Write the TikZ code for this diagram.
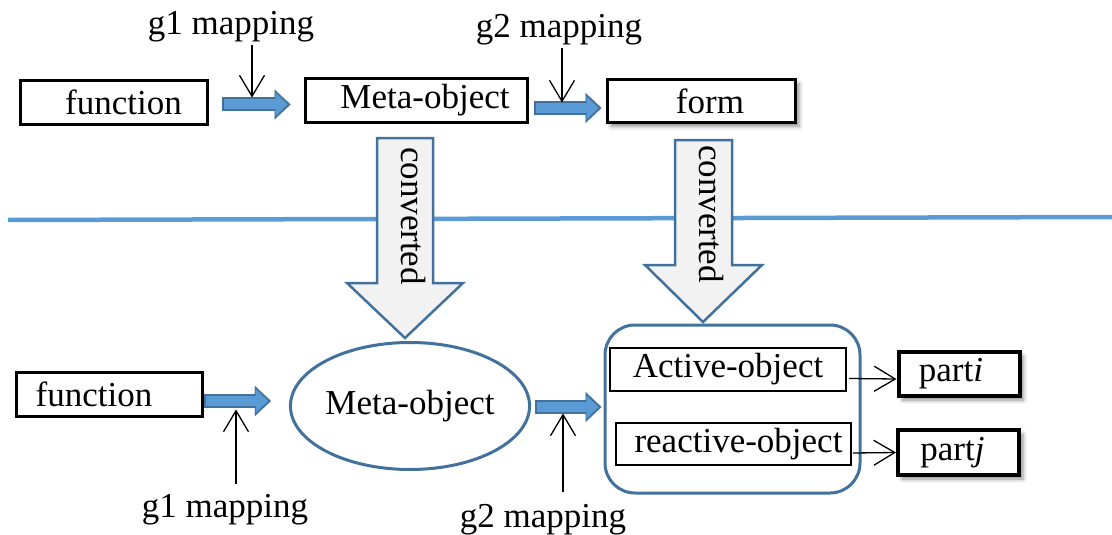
\documentclass[tikz,border=0pt]{standalone}
\usepackage{fontspec}
\setmainfont{Liberation Serif}
\usetikzlibrary{arrows.meta,calc,shapes.geometric,shadows.blur}
\definecolor{arrowblue}{HTML}{5B9BD5}
\definecolor{arrowedge}{HTML}{41719C}
\definecolor{convfill}{HTML}{F2F2F2}
\begin{document}
\begin{tikzpicture}[x=1pt,y=-1pt,
  every node/.style={font=\fontsize{35}{40}\selectfont, inner sep=0pt},
  box/.style={draw=black, line width=3pt, fill=white, minimum height=43pt},
  thinbox/.style={draw=black, line width=2pt, fill=white, minimum height=43pt},
  partbox/.style={draw=black, line width=4pt, fill=white, minimum height=44pt, minimum width=121pt},
  softshadow/.style={blur shadow={shadow xshift=4pt, shadow yshift=-4pt, shadow blur radius=4pt, shadow opacity=45}},
  fatout/.style={draw=arrowedge, line width=14pt, -{Triangle[length=16pt,width=30pt,line width=0.1pt]}},
  fatin/.style={draw=arrowblue, line width=10pt, shorten <=2pt, shorten >=3pt, -{Triangle[length=12pt,width=23pt,line width=0.1pt]}},
  thinarrow/.style={draw=black, line width=1.3pt, -{Straight Barb[length=21pt,width=25pt,line width=1.3pt]}},
  conv/.style={draw=arrowedge, fill=convfill, line width=2.5pt, line join=miter}
]
\useasboundingbox (0,0) rectangle (1112,535);

% separating line
\coordinate (sepL) at (8,220);
\coordinate (sepR) at (1112,217);
\draw[arrowblue, line width=4.5pt] (sepL) -- (sepR);

% ---------- top row ----------
\node[box, minimum width=187pt] (f1) at (113.5,102.5) {\hspace*{20pt}function};
\node[box, minimum width=222pt] (m1) at (416,100.5) {\hspace*{18pt}Meta-object};
\node[box, softshadow, minimum width=188pt] (fm) at (701,101) {\hspace*{18pt}form};

\draw[fatout] ($(f1.east)+(13,2)$) -- ($(m1.west)+(-13,4)$);
\draw[fatin]  ($(f1.east)+(13,2)$) -- ($(m1.west)+(-13,4)$);
\draw[fatout] ($(m1.east)+(5,7.5)$) -- ($(fm.west)+(-4,7)$);
\draw[fatin]  ($(m1.east)+(5,7.5)$) -- ($(fm.west)+(-4,7)$);

\node (g1t) at (231,27) {g1 mapping};
\node (g2t) at (559,30) {g2 mapping};
\draw[thinarrow] ($(g1t.south)+(21,2)$) -- ++(0,53);
\draw[thinarrow] ($(g2t.south)+(3,2)$) -- ++(0,55);

% ---------- converted arrows ----------
\draw[conv] (377,138) -- (433,138) -- (433,283) -- (463,283) -- (405,338) -- (347,283) -- (377,283) -- cycle;
\node[rotate=-90] (c1) at (413,216) {converted};
\draw[conv] (675,140) -- (732,140) -- (732,265) -- (762,265) -- (703,322) -- (645,265) -- (675,265) -- cycle;
\node[rotate=-90] (c2) at (711,214) {converted};

% ---------- bottom row ----------
\node[box, minimum width=186pt, minimum height=44pt] (f2) at (109,394) {function\hspace*{30pt}};
\node[ellipse, draw=arrowedge, line width=3pt, minimum width=230pt, minimum height=127pt] (ell) at (410,406) {Meta-object};
\node[draw=arrowedge, line width=3pt, rounded corners=30pt, minimum width=255pt, minimum height=168pt] (rr) at (732.5,409) {};

\node[thinbox, minimum width=236pt] (ab) at (728,369.5) {Active-object};
\node[thinbox, minimum width=235pt, minimum height=42pt] (rb) at (733.5,444) {\hspace*{10pt}reactive-object};

\node[partbox, softshadow] (pi) at (959,374) {part\textit{i}\hspace*{16pt}};
\node[partbox, softshadow, minimum height=45pt] (pj) at (958.5,452.5) {part\textit{j}\hspace*{12pt}};

\draw[fatout] ($(f2.east)+(0,7)$) -- ($(ell.west)+(-18,-5)$);
\draw[fatin]  ($(f2.east)+(0,7)$) -- ($(ell.west)+(-18,-5)$);
\draw[fatout] ($(ell.east)+(4,1)$) -- ($(rr.west)+(-2,-2)$);
\draw[fatin]  ($(ell.east)+(4,1)$) -- ($(rr.west)+(-2,-2)$);

\node (g1b) at (225,510) {g1 mapping};
\node (g2b) at (543,520) {g2 mapping};
\draw[thinarrow] ($(g1b.north)+(11,-10)$) -- ++(0,-75);
\draw[thinarrow] ($(g2b.north)+(20,-12)$) -- ++(0,-79);

\draw[thinarrow] ([xshift=2pt,yshift=-9pt]ab.east) -- ([yshift=-5pt]pi.west);
\draw[thinarrow] ([xshift=1pt,yshift=-9pt]rb.east) -- (pj.west);
\end{tikzpicture}
\end{document}
